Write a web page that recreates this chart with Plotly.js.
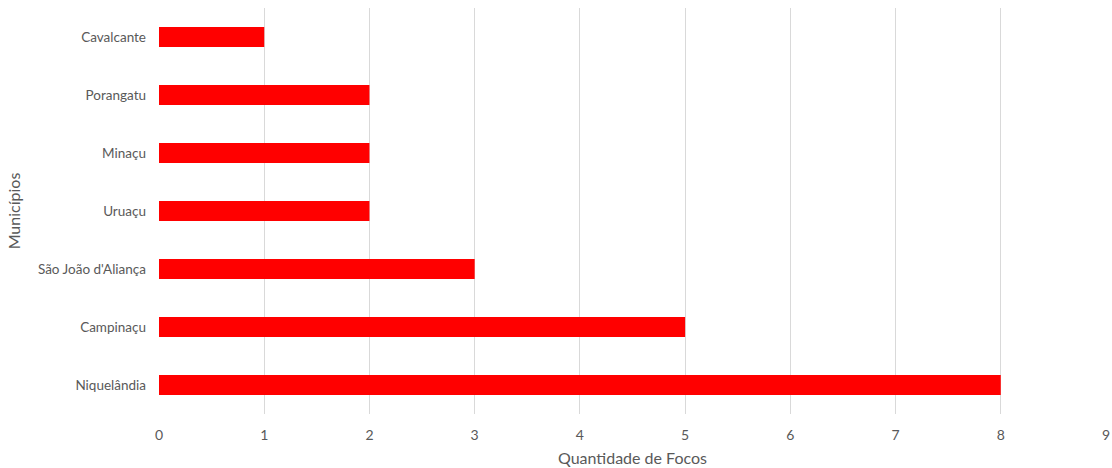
<!DOCTYPE html>
<html>
<head>
<meta charset="utf-8">
<script src="https://cdn.plot.ly/plotly-3.0.1.min.js"></script>
<style>html,body{margin:0;padding:0;background:#fff;}#chart{width:1112px;height:468px;}</style>
</head>
<body>
<div id="chart"></div>
<script>
const municipios = ["Niquelândia", "Campinaçu", "São João d'Aliança", "Uruaçu", "Minaçu", "Porangatu", "Cavalcante"];
const focos = [8, 5, 3, 2, 2, 2, 1];
const xTicks = [0, 1, 2, 3, 4, 5, 6, 7, 8, 9];

const trace = {
  type: 'bar',
  orientation: 'h',
  y: municipios,
  x: focos,
  marker: {color: '#ff0000'},
  width: 0.345,
  hoverinfo: 'x+y'
};
const layout = {
  width: 1112, height: 468,
  margin: {l: 159, r: 6, t: 8, b: 54},
  paper_bgcolor: '#ffffff', plot_bgcolor: '#ffffff',
  font: {family: 'Lato, sans-serif', size: 14, color: '#595959'},
  showlegend: false,
  xaxis: {
    range: [0, 9], tickvals: xTicks, ticktext: xTicks.map(String),
    showgrid: true, gridcolor: '#d9d9d9', gridwidth: 1,
    zeroline: false, showline: false, ticks: '',
    ticklabelstandoff: 11,
    tickfont: {size: 14, color: '#595959'},
    title: {text: 'Quantidade de Focos', font: {size: 16, color: '#595959'}, standoff: 10}
  },
  yaxis: {
    type: 'category', categoryorder: 'array', categoryarray: municipios,
    showgrid: false, zeroline: false, showline: false, ticks: '',
    ticklabelstandoff: 12,
    tickfont: {size: 13.5, color: '#595959'},
    title: {text: 'Municípios', font: {size: 16, color: '#595959'}, standoff: 13}
  }
};
Plotly.newPlot('chart', [trace], layout, {displayModeBar: false, staticPlot: true});
</script>
</body>
</html>
